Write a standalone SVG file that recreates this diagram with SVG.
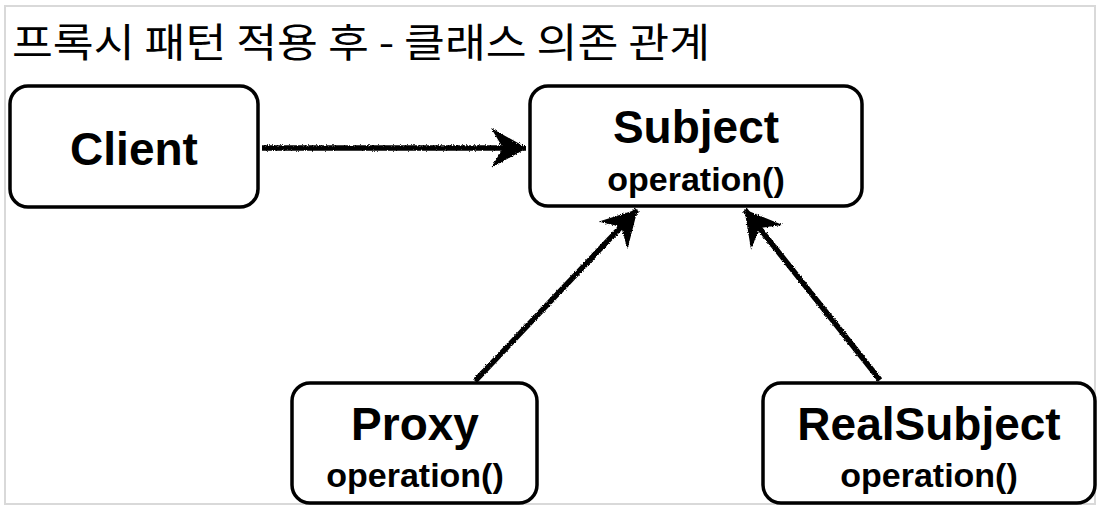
<svg xmlns="http://www.w3.org/2000/svg" width="1106" height="514" viewBox="0 0 1106 514">
<style>
.box{fill:#fff;stroke:#000;stroke-width:3.5}
.name{font-family:"Liberation Sans",Arial,sans-serif;font-weight:bold;font-size:46px;text-anchor:middle;fill:#000}
.op{font-family:"Liberation Sans",Arial,sans-serif;font-weight:bold;font-size:34px;text-anchor:middle;fill:#000}
.title{font-family:"Noto Sans CJK KR","Noto Sans",sans-serif;font-size:40px;fill:#000}
.conn{stroke:#000;stroke-width:5.5;fill:none;marker-end:url(#head)}
</style>
<defs>
<filter id="rough" x="-10%" y="-10%" width="120%" height="120%">
<feTurbulence type="fractalNoise" baseFrequency="0.9" numOctaves="2" seed="3" result="n"/>
<feDisplacementMap in="SourceGraphic" in2="n" scale="3" xChannelSelector="R" yChannelSelector="G"/>
</filter>
<marker id="head" viewBox="0 0 36 40" refX="35" refY="20" markerWidth="36" markerHeight="40" markerUnits="userSpaceOnUse" orient="auto">
<path d="M0,0 L36,20 L0,40 L12,20 Z" fill="#000"/>
</marker>
</defs>
<rect x="0" y="0" width="1106" height="514" fill="#fff"/>
<rect x="5" y="6" width="1090" height="498" fill="#fff" stroke="#d9d9d9" stroke-width="2"/>
<text class="title" x="12" y="57" textLength="698" lengthAdjust="spacingAndGlyphs">프록시 패턴 적용 후 - 클래스 의존 관계</text>
<g id="connectors" filter="url(#rough)">
<line class="conn" x1="262" y1="148" x2="526" y2="148"/>
<line class="conn" x1="475" y1="381" x2="637" y2="210"/>
<line class="conn" x1="880" y1="380" x2="745" y2="210"/>
</g>
<g id="client">
<rect class="box" x="10" y="86" width="248" height="121" rx="18"/>
<text class="name" x="134" y="165">Client</text>
</g>
<g id="subject">
<rect class="box" x="530" y="86" width="332" height="120" rx="18"/>
<text class="name" x="696" y="143">Subject</text>
<text class="op" x="696" y="191">operation()</text>
</g>
<g id="proxy">
<rect class="box" x="292" y="383" width="245" height="120" rx="18"/>
<text class="name" x="415" y="440">Proxy</text>
<text class="op" x="415" y="487">operation()</text>
</g>
<g id="realsubject">
<rect class="box" x="763" y="383" width="332" height="120" rx="18"/>
<text class="name" x="929" y="440">RealSubject</text>
<text class="op" x="929" y="487">operation()</text>
</g>
</svg>
